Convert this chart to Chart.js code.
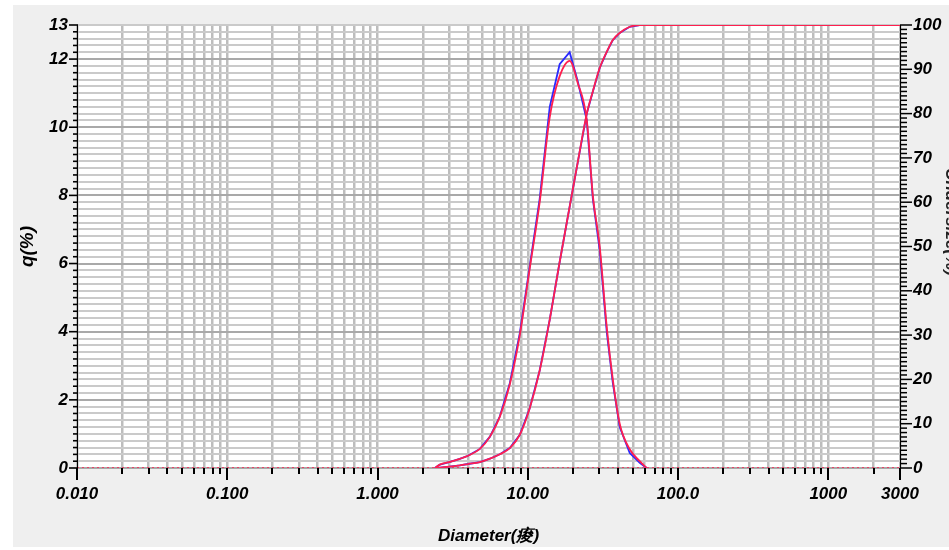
<!DOCTYPE html>
<html><head><meta charset="utf-8">
<script src="https://cdn.jsdelivr.net/npm/chart.js@4.4.1/dist/chart.umd.min.js"></script>
<style>html,body{margin:0;padding:0;background:#fff}#c{display:block}</style>
</head><body>
<canvas id="c" width="949" height="550"></canvas>
<script>
// particle size bins (µm)
const sizes   = [2.41, 2.6, 3.0, 3.53, 4.0, 4.8, 5.6, 6.51, 7.59, 8.85, 10.3, 12.0, 14.0, 16.3, 19.0, 21.5, 24.7, 27.1, 30.1, 33.6, 36.8, 40.9, 47.7, 55.6, 61.9];
// frequency q(%) – blue and red measurements
const qBlue   = [0, 0.10, 0.17, 0.27, 0.36, 0.56, 0.92, 1.51, 2.49, 3.96, 5.92, 7.9, 10.6, 11.85, 12.2, 11.35, 10.2, 7.9, 6.4, 3.96, 2.5, 1.2, 0.44, 0.15, 0];
const qRed    = [0, 0.10, 0.17, 0.27, 0.36, 0.56, 0.92, 1.50, 2.45, 3.90, 5.85, 7.8, 10.3, 11.5, 11.95, 11.3, 10.2, 8.0, 6.5, 4.1, 2.6, 1.3, 0.55, 0.2, 0];
// undersize (%) – cumulative
const cumBlue = [0, 0.1, 0.3, 0.6, 0.9, 1.35, 2.1, 3.1, 4.5, 7.5, 13.5, 22.0, 33.5, 46.5, 59.0, 69.0, 80.0, 85.0, 90.3, 94.0, 96.6, 98.2, 99.6, 100, 100];
const cumRed  = [0, 0.1, 0.3, 0.6, 0.9, 1.35, 2.1, 3.1, 4.5, 7.5, 13.5, 22.0, 33.5, 46.5, 59.0, 69.0, 80.0, 85.0, 90.3, 94.0, 96.6, 98.2, 99.6, 100, 100];
const plateauSizes = [100, 1000, 3000];
const plateauCum   = [100, 100, 100];
const baselineSizes = [0.01, 3000];
const baselineQ     = [0, 0];
// tick labels
const xLabelValues = [0.01, 0.1, 1, 10, 100, 1000, 3000];
const xLabelTexts  = ['0.010', '0.100', '1.000', '10.00', '100.0', '1000', '3000'];
const qLabelValues = [0, 2, 4, 6, 8, 10, 12, 13];
const cumLabelValues = [0, 10, 20, 30, 40, 50, 60, 70, 80, 90, 100];

const FONT = "'Liberation Sans', Arial, sans-serif";
const BLUE = '#2a2aff';
const RED = '#ff1f4f';

const xTickValues = [];
[0.01, 0.1, 1, 10, 100, 1000].forEach(d => {
  for (let m = 1; m <= 9; m++) {
    const v = Number((d * m).toPrecision(3));
    if (v <= 3000) xTickValues.push(v);
  }
});
const qTickValues = [];
for (let i = 0; i <= 65; i++) qTickValues.push(Math.round(i * 2) / 10);
const cumMinor = [];
for (let i = 0; i <= 100; i++) cumMinor.push(i);

const pts = (xs, ys) => xs.map((x, i) => ({x: x, y: ys[i]}));
const isLabelX = v => xLabelValues.some(l => Math.abs(l - v) / l < 1e-6);
const labelTextX = v => { const i = xLabelValues.findIndex(l => Math.abs(l - v) / l < 1e-6); return i >= 0 ? xLabelTexts[i] : ''; };

const bgPlugin = {
  id: 'bg',
  beforeDraw(chart) {
    const {ctx, chartArea: a, width, height} = chart;
    ctx.save();
    ctx.fillStyle = '#ffffff';
    ctx.fillRect(0, 0, width, height);
    ctx.fillStyle = '#efefef';
    ctx.fillRect(13, 5, width - 13, 542);
    ctx.fillStyle = '#ffffff';
    ctx.fillRect(a.left, a.top, a.right - a.left, a.bottom - a.top);
    ctx.restore();
  },
  afterDraw(chart) {
    const {ctx, chartArea: a, scales} = chart;
    const xs = scales.x, yq = scales.y, yc = scales.y2;
    ctx.save();
    ctx.strokeStyle = '#000';
    ctx.lineWidth = 2;
    // x ticks
    xTickValues.forEach(v => {
      const px = Math.round(xs.getPixelForValue(v));
      const len = isLabelX(v) ? 12 : 6;
      ctx.beginPath(); ctx.moveTo(px, a.bottom); ctx.lineTo(px, a.bottom + len); ctx.stroke();
    });
    // left axis
    ctx.lineWidth = 1;
    ctx.beginPath(); ctx.moveTo(a.left + 0.5, a.top); ctx.lineTo(a.left + 0.5, a.bottom); ctx.stroke();
    ctx.lineWidth = 1.6;
    qTickValues.forEach(v => {
      const py = yq.getPixelForValue(v);
      const len = qLabelValues.includes(v) ? 8 : 4;
      ctx.beginPath(); ctx.moveTo(a.left - len, py); ctx.lineTo(a.left + 1, py); ctx.stroke();
    });
    // right axis
    ctx.lineWidth = 1;
    ctx.beginPath(); ctx.moveTo(a.right + 0.5, a.top); ctx.lineTo(a.right + 0.5, a.bottom); ctx.stroke();
    ctx.lineWidth = 1.5;
    cumMinor.forEach(v => {
      const py = yc.getPixelForValue(v);
      const len = cumLabelValues.includes(v) ? 12 : 7;
      ctx.beginPath(); ctx.moveTo(a.right, py); ctx.lineTo(a.right + len, py); ctx.stroke();
    });
    // right title (mostly cut off by the page edge)
    ctx.translate(951, 222);
    ctx.rotate(Math.PI / 2);
    ctx.fillStyle = '#222';
    ctx.font = 'bold italic 17px ' + FONT;
    ctx.textAlign = 'center';
    ctx.textBaseline = 'middle';
    ctx.fillText('Undersize(%)', 0, 0);
    ctx.restore();
  }
};

new Chart(document.getElementById('c'), {
  type: 'line',
  data: {
    datasets: [
      {label: 'q red', data: pts(sizes, qRed), yAxisID: 'y', borderColor: RED, borderWidth: 1.8, pointRadius: 0, cubicInterpolationMode: 'monotone', order: 0},
      {label: 'Q red', data: pts(sizes.concat(plateauSizes), cumRed.concat(plateauCum)), yAxisID: 'y2', borderColor: RED, borderWidth: 1.8, pointRadius: 0, cubicInterpolationMode: 'monotone', order: 0},
      {label: 'q blue', data: pts(sizes, qBlue), yAxisID: 'y', borderColor: BLUE, borderWidth: 1.8, pointRadius: 0, tension: 0, order: 1},
      {label: 'Q blue', data: pts(sizes.concat(plateauSizes), cumBlue.concat(plateauCum)), yAxisID: 'y2', borderColor: BLUE, borderWidth: 1.8, pointRadius: 0, tension: 0, order: 1},
      {label: 'base', data: pts(baselineSizes, baselineQ), yAxisID: 'y', borderColor: RED, borderWidth: 1.5, borderDash: [2, 3], pointRadius: 0, order: 2}
    ]
  },
  options: {
    responsive: false,
    animation: false,
    events: [],
    layout: {padding: {left: 0, right: 0, top: 25, bottom: 0}},
    plugins: {legend: {display: false}, tooltip: {enabled: false}},
    scales: {
      x: {
        type: 'logarithmic', position: 'bottom', min: 0.01, max: 3000,
        afterBuildTicks: s => { s.ticks = xTickValues.map(v => ({value: v})); },
        afterFit: s => { s.height = 82; },
        grid: {color: '#bdbdbd', lineWidth: 2.5, drawTicks: false},
        border: {display: false},
        ticks: {
          autoSkip: false, maxRotation: 0, minRotation: 0, padding: 16, color: '#000',
          font: {family: FONT, size: 17, weight: 'bold', style: 'italic'},
          callback: v => labelTextX(v)
        },
        title: {display: true, text: 'Diameter(痠)', color: '#000', padding: {top: 0, bottom: 3},
                font: {family: FONT, size: 17, weight: 'bold', style: 'italic'}}
      },
      y: {
        type: 'linear', position: 'left', min: 0, max: 13,
        afterBuildTicks: s => { s.ticks = qTickValues.map(v => ({value: v})); },
        afterFit: s => { s.width = 77; },
        grid: {
          lineWidth: 2, drawTicks: false,
          color: c => (c.tick && Number.isInteger(c.tick.value) && c.tick.value % 2 === 0) ? '#a9a9a9' : '#cacaca'
        },
        border: {display: false},
        ticks: {
          autoSkip: false, padding: 9, color: '#000',
          font: {family: FONT, size: 17, weight: 'bold', style: 'italic'},
          callback: v => qLabelValues.includes(v) ? String(v) : ''
        },
        title: {display: true, text: 'q(%)', color: '#000', padding: {top: 16, bottom: 0},
                font: {family: FONT, size: 19, weight: 'bold', style: 'italic'}}
      },
      y2: {
        type: 'linear', position: 'right', min: 0, max: 100,
        afterBuildTicks: s => { s.ticks = cumLabelValues.map(v => ({value: v})); },
        afterFit: s => { s.width = 49; },
        grid: {drawOnChartArea: false, drawTicks: false},
        border: {display: false},
        ticks: {
          autoSkip: false, padding: 13, color: '#000',
          font: {family: FONT, size: 17, weight: 'bold', style: 'italic'},
          callback: v => String(v)
        }
      }
    }
  },
  plugins: [bgPlugin]
});
</script>
</body></html>
